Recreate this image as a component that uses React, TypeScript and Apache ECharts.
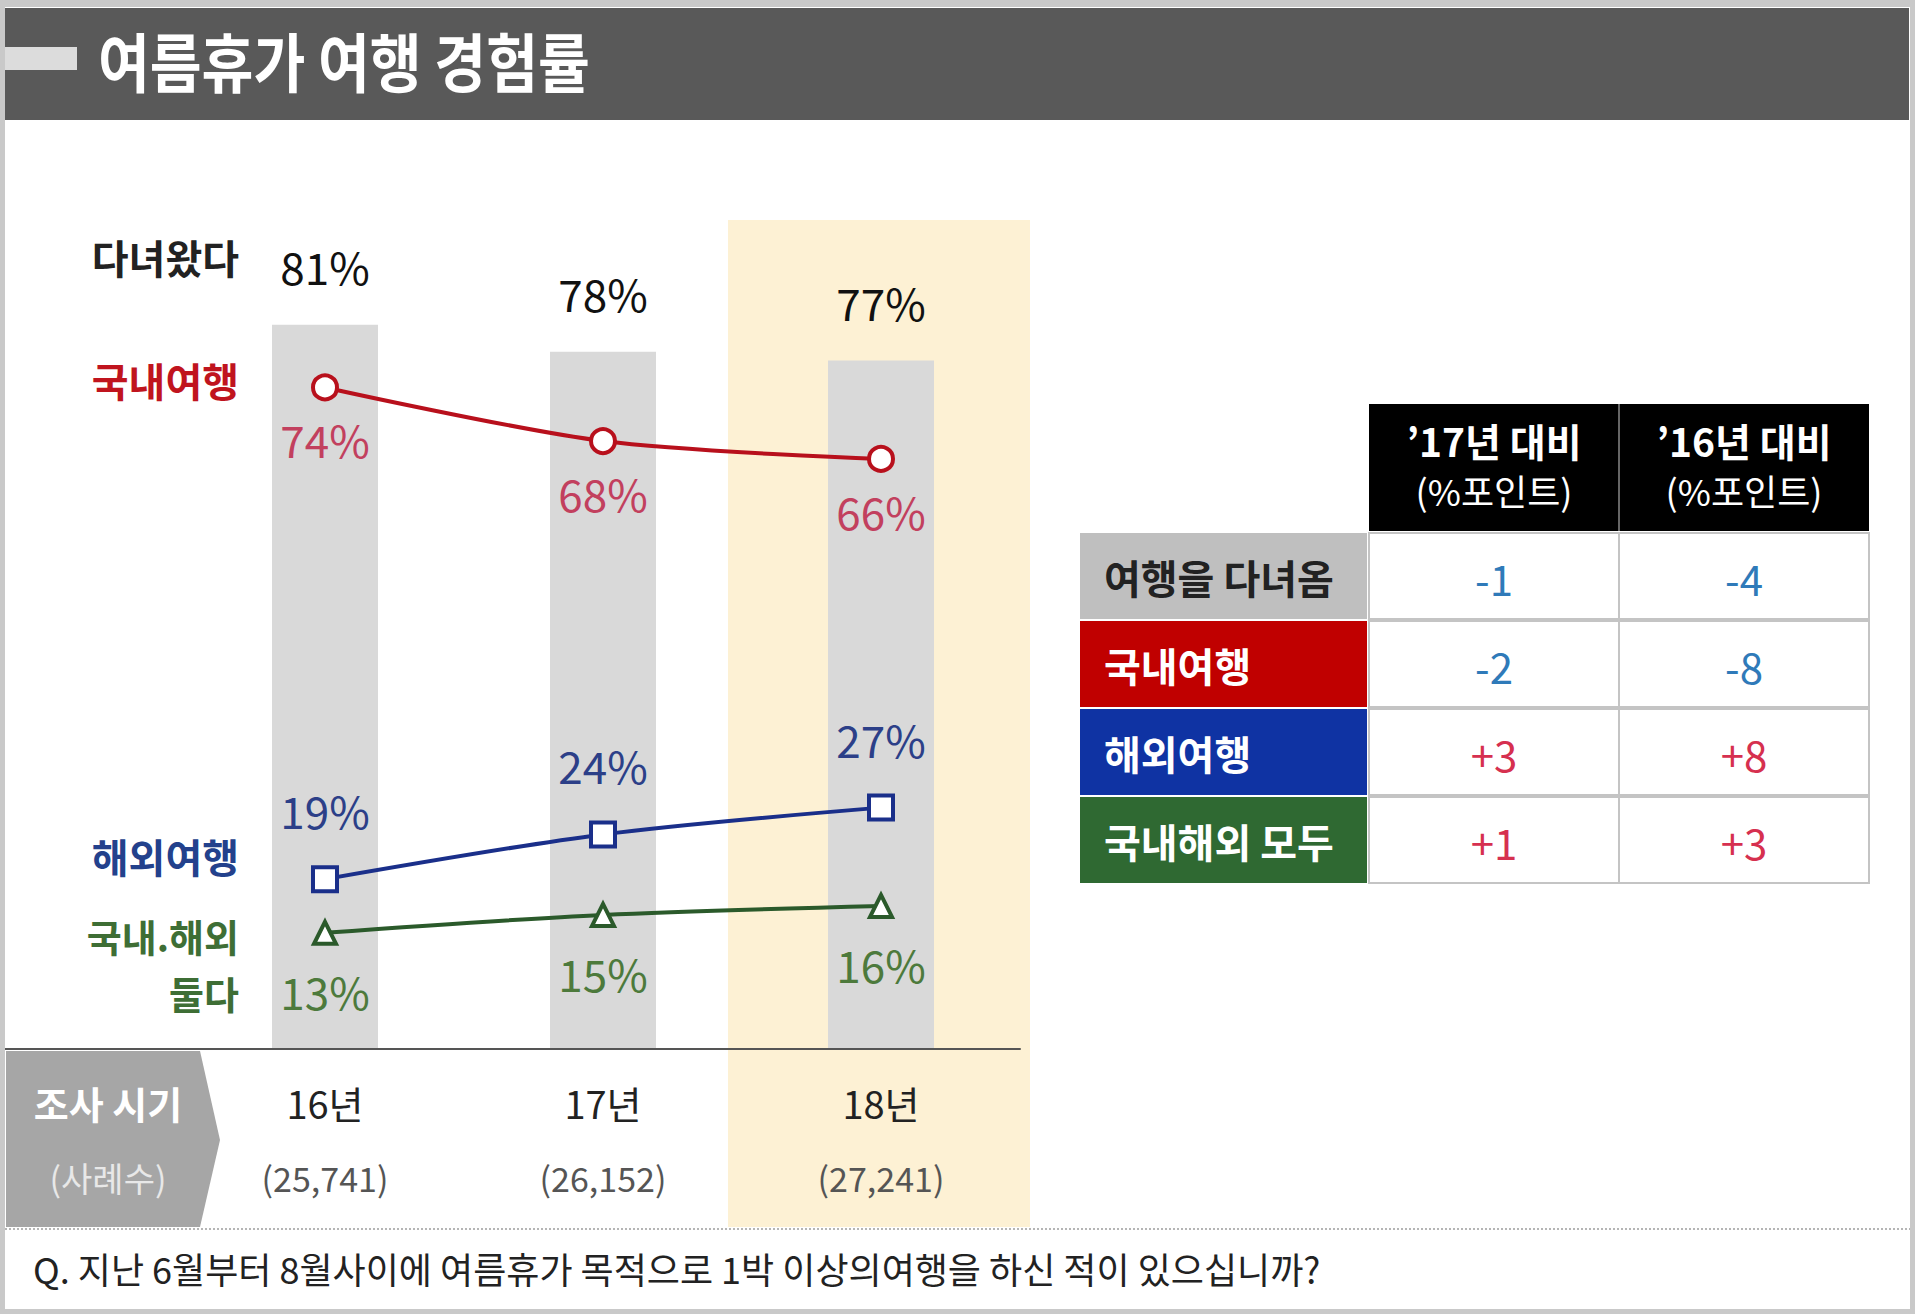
import React, { useEffect, useRef } from "react";
import * as echarts from "echarts";

const categories = ["16년", "17년", "18년"];
const sampleSizes = ["(25,741)", "(26,152)", "(27,241)"];
const totalTravel = [81, 78, 77];
const domesticTravel = [74, 68, 66];
const overseasTravel = [19, 24, 27];
const bothTravel = [13, 15, 16];

const tableRows = ["여행을 다녀옴", "국내여행", "해외여행", "국내해외 모두"];
const tableHeaders = [
  ["’17년 대비", "(%포인트)"],
  ["’16년 대비", "(%포인트)"],
];
const changeVs17 = [-1, -2, 3, 1];
const changeVs16 = [-4, -8, 8, 3];

const FONT = "'Noto Sans CJK KR', 'Noto Sans', sans-serif";

function buildTable(): any[] {
  const els: any[] = [];
  const labelX = 1080;
  const labelW = 287;
  const colX = [1369, 1619];
  const colW = 250;
  const headTop = 404;
  const headH = 127;
  const rowTop = 533;
  const rowH = 88;
  const rowColors = ["#bfbfbf", "#c00000", "#0f33a3", "#2f6932"];
  const rowText = ["#222222", "#ffffff", "#ffffff", "#ffffff"];
  tableHeaders.forEach((h, i) => {
    els.push({
      type: "rect",
      shape: { x: colX[i], y: headTop, width: colW, height: headH },
      style: { fill: "#000000" },
    });
    els.push({
      type: "text",
      x: colX[i] + colW / 2,
      y: headTop + 36,
      style: { text: h[0], fill: "#ffffff", font: `bold 39px ${FONT}`, lineHeight: 42, align: "center", verticalAlign: "middle" },
    });
    els.push({
      type: "text",
      x: colX[i] + colW / 2,
      y: headTop + 86,
      style: { text: h[1], fill: "#ffffff", font: `36px ${FONT}`, lineHeight: 40, align: "center", verticalAlign: "middle" },
    });
  });
  els.push({
    type: "line",
    shape: { x1: colX[1], y1: headTop, x2: colX[1], y2: headTop + headH },
    style: { stroke: "#666666", lineWidth: 2 },
  });
  const cols = [changeVs17, changeVs16];
  tableRows.forEach((r, i) => {
    const y = rowTop + i * rowH;
    els.push({
      type: "rect",
      shape: { x: labelX, y: y, width: labelW, height: rowH - 2 },
      style: { fill: rowColors[i] },
    });
    els.push({
      type: "text",
      x: labelX + 24,
      y: y + rowH / 2,
      style: { text: r, fill: rowText[i], font: `bold 40px ${FONT}`, lineHeight: 44, align: "left", verticalAlign: "middle" },
    });
    cols.forEach((vals, c) => {
      els.push({
        type: "rect",
        shape: { x: colX[c], y: y, width: colW, height: rowH - 2 },
        style: { fill: "#ffffff", stroke: "#c4c4c4", lineWidth: 2 },
      });
      const v = vals[i];
      els.push({
        type: "text",
        x: colX[c] + colW / 2,
        y: y + rowH / 2,
        style: {
          text: (v > 0 ? "+" : "-") + Math.abs(v),
          fill: v < 0 ? "#2f7ab9" : "#d6304f",
          font: `42px ${FONT}`,
          lineHeight: 46,
          align: "center",
          verticalAlign: "middle",
        },
      });
    });
  });
  return els;
}

function sideLabel(text: string, y: number, color: string, size = 40): any {
  return {
    type: "text",
    x: 239,
    y,
    style: { text, fill: color, font: `bold ${size}px ${FONT}`, lineHeight: size + 4, align: "right", verticalAlign: "middle" },
  };
}

function buildOption(): any {
  const graphics: any[] = [
    { type: "rect", shape: { x: 0, y: 0, width: 1915, height: 1314 }, style: { fill: "#c9c9c9" } },
    { type: "rect", shape: { x: 5, y: 7, width: 1905, height: 1302 }, style: { fill: "#ffffff" } },
    { type: "rect", shape: { x: 5, y: 8, width: 1904, height: 112 }, style: { fill: "#595959" } },
    { type: "rect", shape: { x: 5, y: 47, width: 72, height: 23 }, style: { fill: "#dcdcdc" } },
    {
      type: "text",
      x: 98,
      y: 59,
      scaleX: 0.88,
      style: { text: "여름휴가 여행 경험률", fill: "#ffffff", font: `bold 64px ${FONT}`, lineHeight: 70, align: "left", verticalAlign: "middle" },
    },
    { type: "rect", shape: { x: 728, y: 220, width: 302, height: 1007 }, style: { fill: "#fdf1d4" } },
    {
      type: "polygon",
      shape: { points: [[6, 1051], [200, 1051], [220, 1140], [200, 1227], [6, 1227]] },
      style: { fill: "#a6a6a6" },
    },
    {
      type: "text",
      x: 108,
      y: 1102,
      style: { text: "조사 시기", fill: "#ffffff", font: `bold 38px ${FONT}`, lineHeight: 42, align: "center", verticalAlign: "middle" },
    },
    {
      type: "text",
      x: 108,
      y: 1177,
      style: { text: "(사례수)", fill: "#e8e8e8", font: `34px ${FONT}`, lineHeight: 38, align: "center", verticalAlign: "middle" },
    },
    { type: "line", shape: { x1: 5, y1: 1049, x2: 190, y2: 1049 }, style: { stroke: "#555555", lineWidth: 2 } },
    {
      type: "line",
      shape: { x1: 5, y1: 1229, x2: 1910, y2: 1229 },
      style: { stroke: "#b5b5b5", lineWidth: 2, lineDash: [2, 2] },
    },
    {
      type: "text",
      x: 33,
      y: 1268,
      style: {
        text: "Q. 지난 6월부터 8월사이에 여름휴가 목적으로 1박 이상의여행을 하신 적이 있으십니까?",
        fill: "#222222",
        font: `36px ${FONT}`,
        lineHeight: 40,
        align: "left",
        verticalAlign: "middle",
      },
    },
    sideLabel("다녀왔다", 257, "#222222"),
    sideLabel("국내여행", 380, "#c0141e"),
    sideLabel("해외여행", 856, "#23418c"),
    sideLabel("국내.해외", 935, "#3e6e35", 38),
    sideLabel("둘다", 992, "#3e6e35", 38),
    ...buildTable(),
  ];

  return {
    animation: false,
    backgroundColor: "#ffffff",
    textStyle: { fontFamily: FONT },
    graphic: { elements: graphics },
    grid: { left: 186, top: 155, width: 834, height: 894, containLabel: false },
    xAxis: {
      type: "category",
      data: categories,
      z: 3,
      axisLine: { show: true, lineStyle: { color: "#555555", width: 2 } },
      axisTick: { show: false },
      axisLabel: {
        interval: 0,
        margin: 32,
        formatter: (value: string, idx: number) => `{a|${value}}\n{b|${sampleSizes[idx]}}`,
        rich: {
          a: { fontSize: 38, lineHeight: 42, color: "#222222", fontFamily: FONT },
          b: { fontSize: 34, lineHeight: 108, color: "#555555", fontFamily: FONT },
        },
      },
    },
    yAxis: { type: "value", min: 0, max: 100, show: false, splitLine: { show: false } },
    series: [
      {
        name: "다녀왔다",
        type: "bar",
        data: totalTravel,
        barWidth: 106,
        z: 2,
        itemStyle: { color: "#d9d9d9" },
        label: {
          show: true,
          position: "top",
          distance: 37,
          formatter: "{c}%",
          fontSize: 44,
          lineHeight: 44,
          color: "#111111",
        },
      },
      {
        name: "국내여행",
        type: "line",
        data: domesticTravel,
        smooth: 0.3,
        symbol: "circle",
        symbolSize: 24,
        z: 4,
        lineStyle: { color: "#b8101c", width: 4 },
        itemStyle: { color: "#ffffff", borderColor: "#b8101c", borderWidth: 4 },
        label: {
          show: true,
          position: "bottom",
          distance: 16,
          formatter: "{c}%",
          fontSize: 44,
          lineHeight: 44,
          color: "#c2405e",
        },
      },
      {
        name: "해외여행",
        type: "line",
        data: overseasTravel,
        smooth: 0.3,
        symbol: "rect",
        symbolSize: 24,
        z: 4,
        lineStyle: { color: "#1a2f8a", width: 4 },
        itemStyle: { color: "#ffffff", borderColor: "#1a2f8a", borderWidth: 4 },
        label: {
          show: true,
          position: "top",
          distance: 33,
          formatter: "{c}%",
          fontSize: 44,
          lineHeight: 44,
          color: "#2c3f88",
        },
      },
      {
        name: "국내.해외 둘다",
        type: "line",
        data: bothTravel,
        smooth: 0.3,
        symbol: "triangle",
        symbolSize: 22,
        z: 4,
        lineStyle: { color: "#2b5a2b", width: 4 },
        itemStyle: { color: "#ffffff", borderColor: "#2b5a2b", borderWidth: 4 },
        label: {
          show: true,
          position: "bottom",
          distance: 23,
          formatter: "{c}%",
          fontSize: 44,
          lineHeight: 44,
          color: "#4d7a3c",
        },
      },
    ],
  };
}

export default function App() {
  const ref = useRef<HTMLDivElement>(null);
  useEffect(() => {
    if (!ref.current) return;
    const chart = echarts.init(ref.current, null, { renderer: "svg" });
    chart.setOption(buildOption());
    return () => {
      chart.dispose();
    };
  }, []);
  return (
    <div
      ref={ref}
      style={{ position: "absolute", left: 0, top: 0, width: 1920, height: 1314, background: "#ffffff" }}
    />
  );
}
